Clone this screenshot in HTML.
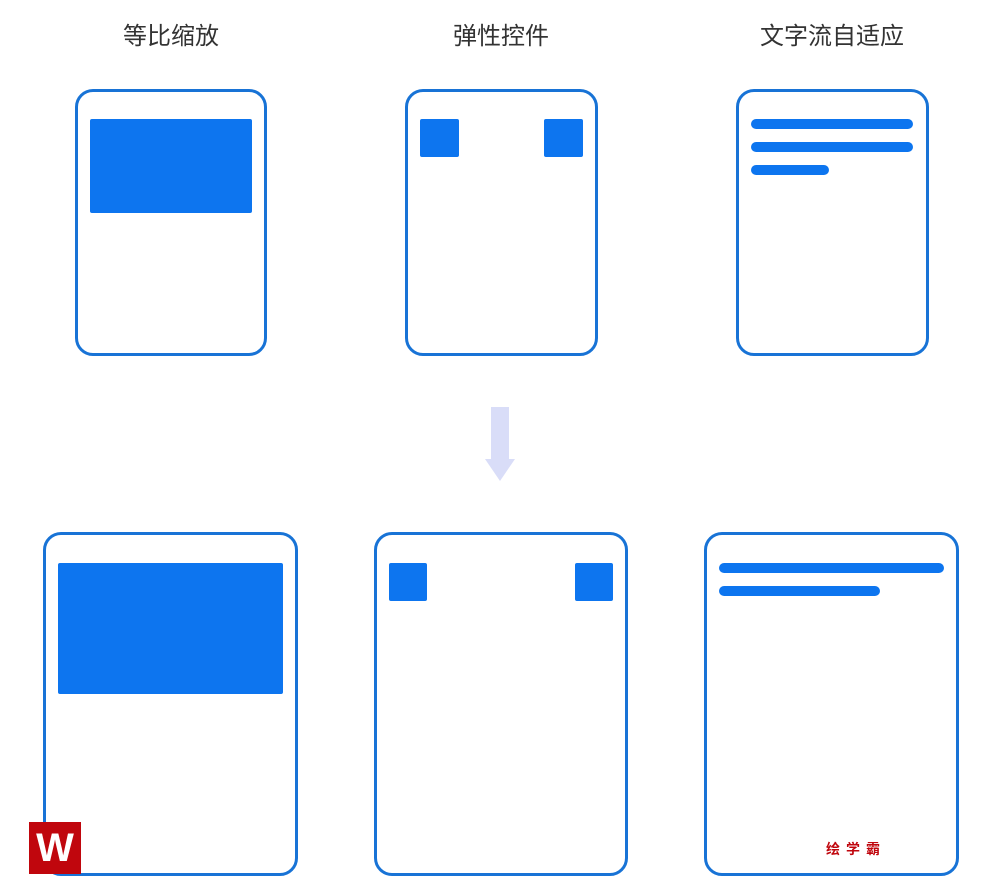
<!DOCTYPE html>
<html><head><meta charset="utf-8"><style>
body{margin:0;width:1000px;height:895px;background:#fff;position:relative;overflow:hidden;font-family:"Liberation Sans","Noto Sans CJK SC",sans-serif}
.a{position:absolute}
.card{position:absolute;border:3px solid #1873d6;border-radius:18px;box-sizing:border-box}
.f{position:absolute;background:#0d75ef}
.t{position:absolute;top:16px;width:200px;text-align:center;font-size:24px;color:#333}
.bar{position:absolute;background:#0d75ef;border-radius:5px}
</style></head><body>
<div class="t" style="left:71px">等比缩放</div>
<div class="t" style="left:401px">弹性控件</div>
<div class="t" style="left:732px">文字流自适应</div>

<div class="card" style="left:75px;top:89px;width:192px;height:267px"></div>
<div class="f" style="left:90px;top:119px;width:162px;height:94px;border-radius:2px"></div>

<div class="card" style="left:405px;top:89px;width:193px;height:267px"></div>
<div class="f" style="left:420px;top:119px;width:39px;height:38px;border-radius:2px"></div>
<div class="f" style="left:544px;top:119px;width:39px;height:38px;border-radius:2px"></div>

<div class="card" style="left:736px;top:89px;width:193px;height:267px"></div>
<div class="bar" style="left:751px;top:119px;width:162px;height:10px"></div>
<div class="bar" style="left:751px;top:142px;width:162px;height:10px"></div>
<div class="bar" style="left:751px;top:165px;width:78px;height:10px"></div>

<svg class="a" style="left:480px;top:405px" width="40" height="80"><rect x="11" y="2" width="18" height="54" fill="#d9ddf8"/><polygon points="5,54 35,54 20,76" fill="#d9ddf8"/></svg>

<div class="card" style="left:43px;top:532px;width:255px;height:344px"></div>
<div class="f" style="left:58px;top:563px;width:225px;height:131px;border-radius:2px"></div>

<div class="card" style="left:374px;top:532px;width:254px;height:344px"></div>
<div class="f" style="left:389px;top:563px;width:38px;height:38px;border-radius:2px"></div>
<div class="f" style="left:575px;top:563px;width:38px;height:38px;border-radius:2px"></div>

<div class="card" style="left:704px;top:532px;width:255px;height:344px"></div>
<div class="bar" style="left:719px;top:563px;width:225px;height:10px"></div>
<div class="bar" style="left:719px;top:586px;width:161px;height:10px"></div>

<div class="a" style="left:29px;top:822px;width:52px;height:52px;background:#c0060d;color:#fff;font-size:40px;font-weight:bold;text-align:center;line-height:52px">W</div>
<div class="a" style="left:826px;top:839px;font-size:14px;font-weight:bold;color:#c0060d;letter-spacing:6px">绘学霸</div>
</body></html>
